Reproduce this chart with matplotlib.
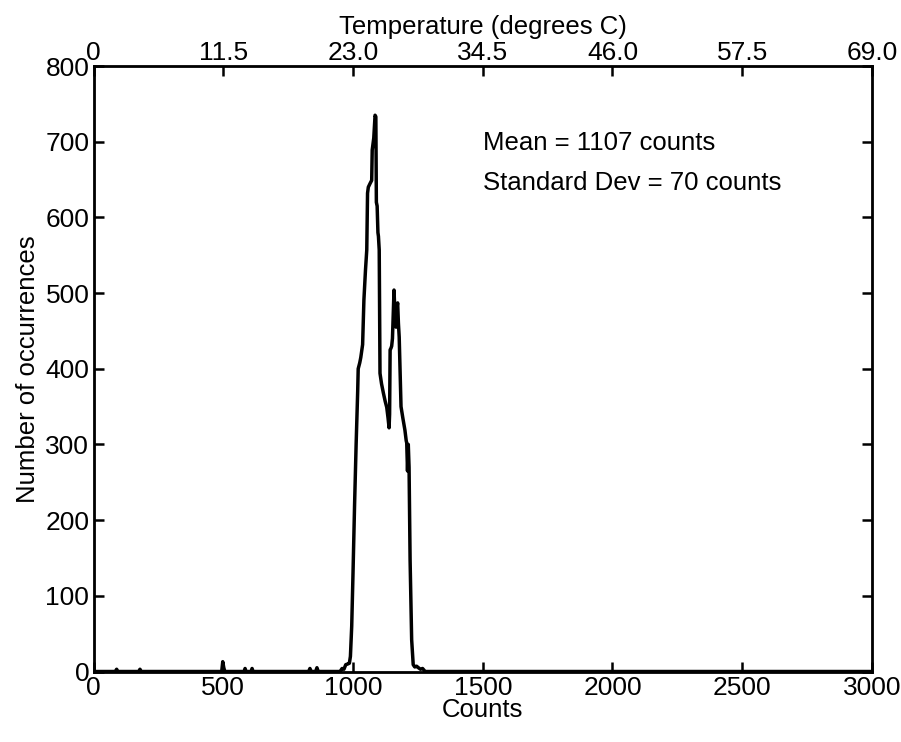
import matplotlib.pyplot as plt
import numpy as np

plt.rcParams['font.family'] = ['Liberation Sans', 'DejaVu Sans']

# histogram of counts
counts = [0, 84, 89, 94, 174, 179, 184, 494, 498, 502, 506, 580, 584, 588, 607, 611, 615,
          829, 834, 839, 856, 861, 866, 950, 958, 965, 972, 980, 986, 990, 995, 1000,
          1006, 1012, 1018, 1020, 1026, 1030, 1037, 1042, 1048, 1053, 1056, 1059, 1066,
          1072, 1074, 1080, 1085, 1088, 1090, 1093, 1096, 1098, 1101, 1104, 1110, 1117,
          1124, 1130, 1135, 1139, 1141, 1143, 1146, 1149, 1152, 1158, 1162, 1166, 1169,
          1172, 1175, 1178, 1185, 1192, 1200, 1205, 1207, 1210, 1213, 1216, 1220, 1226,
          1232, 1238, 1245, 1252, 1260, 1268, 1278, 3000]
occurrences = [0, 0, 3, 0, 0, 3, 0, 0, 13, 5, 0, 0, 4, 0, 0, 4, 0,
               0, 4, 0, 0, 5, 0, 0, 4, 3, 9, 10, 11, 20, 60, 130,
               220, 300, 370, 400, 408, 415, 432, 491, 530, 557, 632, 640, 645,
               649, 689, 705, 735, 733, 620, 615, 580, 575, 557, 394, 380, 368,
               357, 349, 335, 322, 340, 425, 427, 430, 440, 504, 470, 455, 480,
               487, 460, 442, 350, 335, 319, 305, 302, 265, 300, 270, 147, 42,
               9, 6, 7, 5, 3, 4, 0, 0]

temp_ticks = [0, 11.5, 23.0, 34.5, 46.0, 57.5, 69.0]
temp_labels = ['0', '11.5', '23.0', '34.5', '46.0', '57.5', '69.0']

fig = plt.figure(figsize=(9.01, 7.42), dpi=100)
ax = fig.add_axes([0.1038, 0.095, 0.864, 0.816])

ax.plot(counts, occurrences, color='black', lw=2.5)

ax.set_xlim(0, 3000)
ax.set_ylim(0, 800)
ax.set_xticks(np.arange(0, 3001, 500))
ax.set_yticks(np.arange(0, 801, 100))
ax.tick_params(direction='in', length=7, width=1.8, labelsize=19,
               top=False, right=True, pad=3)
ax.set_xlabel('Counts', fontsize=18.5, labelpad=-1)
ax.set_ylabel('Number of occurrences', fontsize=18.5, labelpad=4)
for s in ax.spines.values():
    s.set_linewidth(2)

# top axis in temperature
ax2 = ax.twiny()
ax2.set_xlim(0, 69.0)
ax2.set_xticks(temp_ticks)
ax2.set_xticklabels(temp_labels)
ax2.tick_params(direction='in', length=7, width=1.8, labelsize=19, pad=1)
ax2.set_xlabel('Temperature (degrees C)', fontsize=18.5, labelpad=5)

ax.text(1500, 698, 'Mean = 1107 counts', fontsize=18.5, va='center')
ax.text(1500, 645, 'Standard Dev = 70 counts', fontsize=18.5, va='center')

fig.savefig('out.png', dpi=100)
